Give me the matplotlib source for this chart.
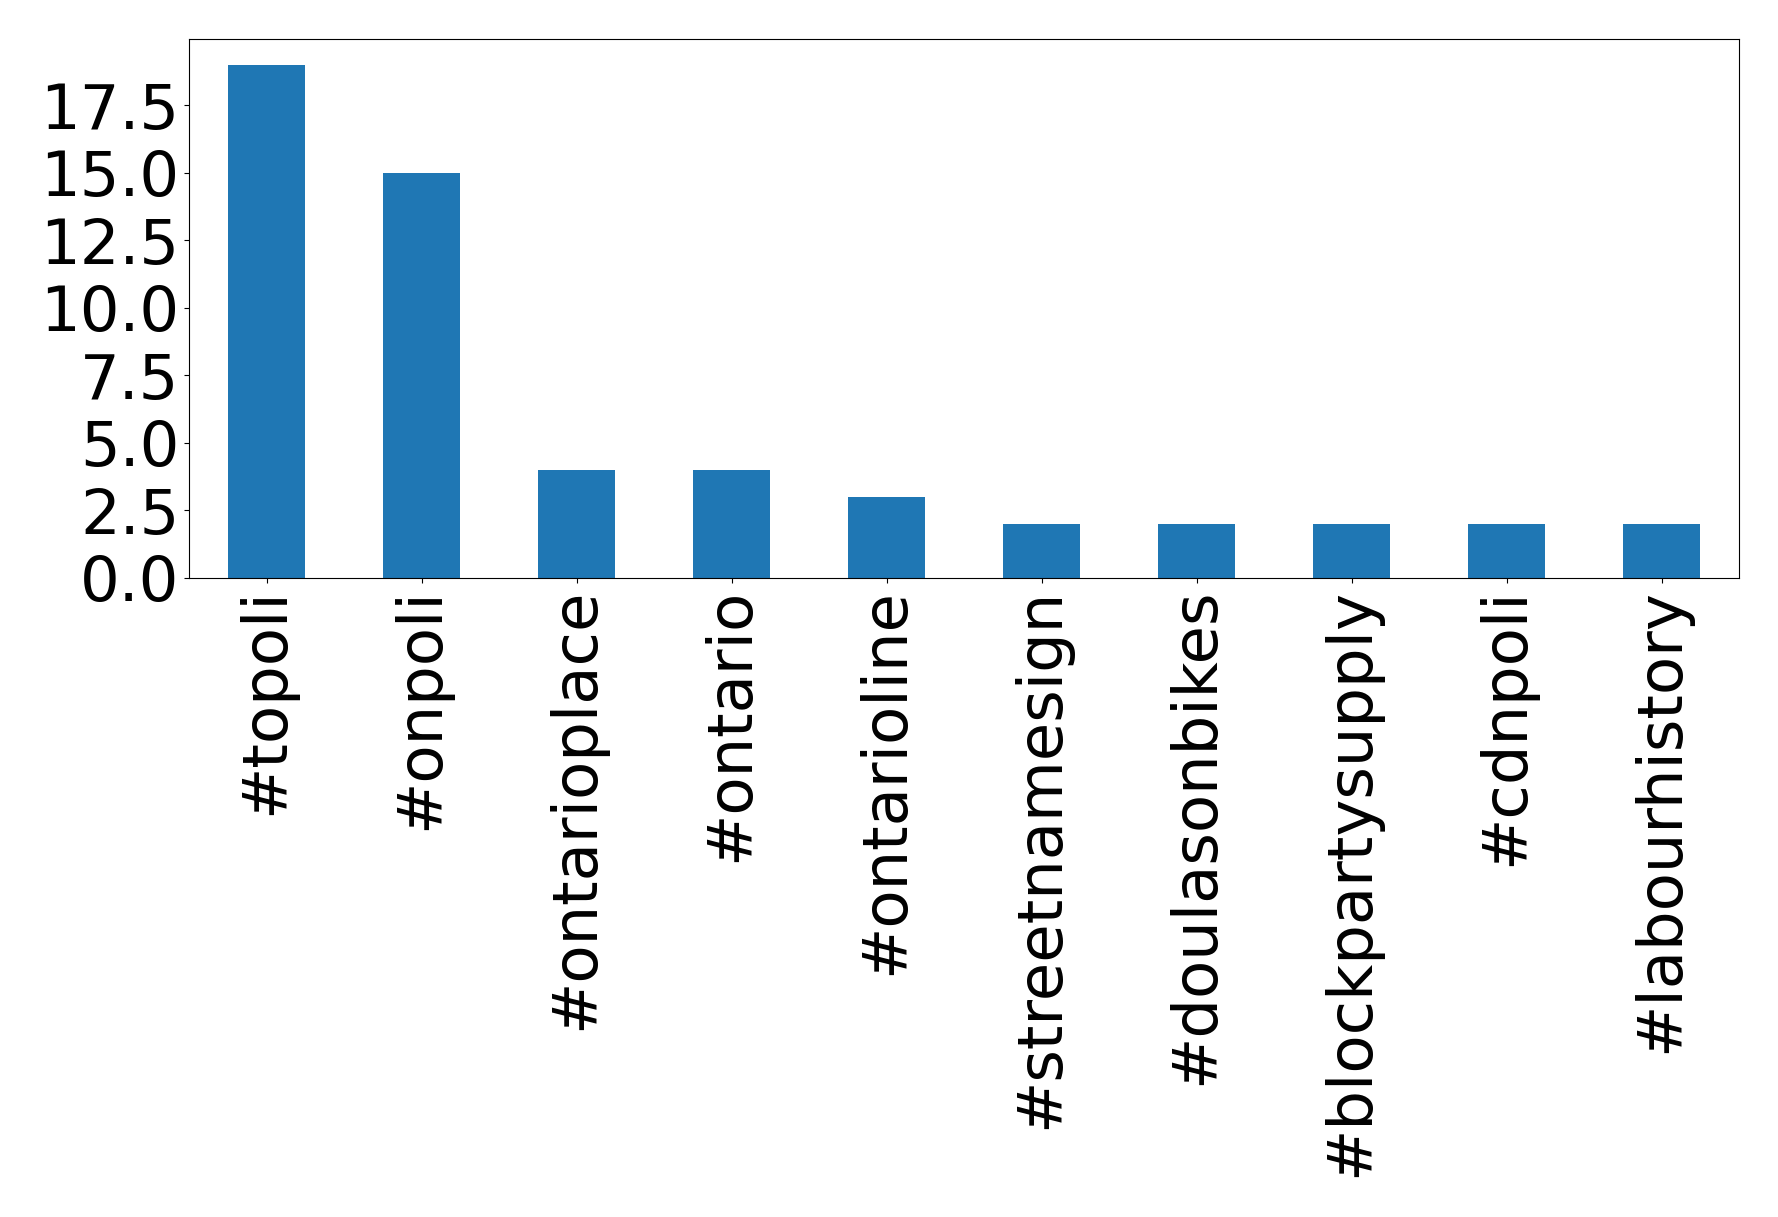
import matplotlib
matplotlib.use("Agg")
import matplotlib.pyplot as plt
import numpy as np

hashtags = ["#topoli", "#onpoli", "#ontarioplace", "#ontario", "#ontarioline",
            "#streetnamesign", "#doulasonbikes", "#blockpartysupply", "#cdnpoli",
            "#labourhistory"]
counts = [19, 15, 4, 4, 3, 2, 2, 2, 2, 2]
yticks = [0.0, 2.5, 5.0, 7.5, 10.0, 12.5, 15.0, 17.5]

fig = plt.figure(figsize=(17.78, 12.17), dpi=100)
ax = fig.add_axes([189/1778, 1 - 578/1217, (1739 - 189)/1778, (578 - 39)/1217])
x = list(range(len(hashtags)))
ax.bar(x, counts, width=0.5, color="#1f77b4")
ax.set_xlim(-0.5, len(hashtags) - 0.5)
ax.set_xticks(x)
ax.set_xticklabels(hashtags, rotation=90, fontsize=45)
ax.set_yticks(yticks)
ax.set_yticklabels([f"{v:.1f}" for v in yticks])
ax.set_ylim(0, max(counts) * 1.05)
ax.tick_params(axis="y", labelsize=45)
fig.savefig("out.png", dpi=100)
